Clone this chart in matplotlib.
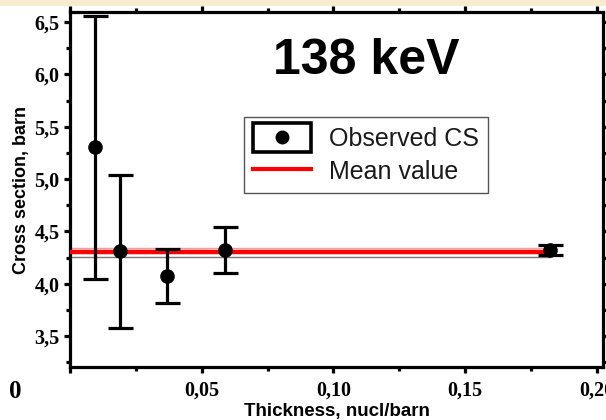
import matplotlib
matplotlib.use("Agg")
import matplotlib.pyplot as plt
from matplotlib.lines import Line2D
from matplotlib.patches import Rectangle
from matplotlib.legend_handler import HandlerBase
from matplotlib.ticker import MultipleLocator, FuncFormatter

# Data
thickness = [0.0095, 0.019, 0.0368, 0.0589, 0.1823]
cross_section = [5.305, 4.31, 4.073, 4.32, 4.32]
err_upper = [6.56, 5.04, 4.33, 4.544, 4.37]
err_lower = [4.045, 3.575, 3.82, 4.10, 4.27]
mean_value = 4.30
mean_sigma = 0.045
title_text = "138 keV"

yerr = [[c - lo for c, lo in zip(cross_section, err_lower)],
        [hi - c for c, hi in zip(cross_section, err_upper)]]

fig = plt.figure(figsize=(6.06, 4.2), dpi=100)
fig.patch.set_facecolor("white")
# beige strip at top
fig.add_artist(Rectangle((0, 1 - 6 / 420), 1, 6 / 420, transform=fig.transFigure,
                         facecolor="#f9ecce", edgecolor="none"))

ax = fig.add_axes([70 / 606, 1 - 367 / 420, (603 - 70) / 606, (367 - 12) / 420])
ax.set_xlim(0, 0.2024)
ax.set_ylim(3.204, 6.596)

x_end = thickness[-1]
ax.plot([0, x_end], [mean_value + mean_sigma] * 2, color="#ff9a9a", lw=1.0, zorder=2)
ax.plot([0, x_end], [mean_value - mean_sigma] * 2, color="#777777", lw=1.0, zorder=2)
ax.plot([0, x_end], [mean_value] * 2, color="#ff0000", lw=3.2, zorder=3)

ax.errorbar(thickness, cross_section, yerr=yerr, fmt="o", color="black",
            ms=9.5, elinewidth=2.3, capsize=9, capthick=2.3, zorder=4)

for s in ax.spines.values():
    s.set_linewidth(2.3)

ax.xaxis.set_major_locator(MultipleLocator(0.05))
ax.xaxis.set_minor_locator(MultipleLocator(0.025))
ax.yaxis.set_major_locator(MultipleLocator(0.5))
ax.yaxis.set_minor_locator(MultipleLocator(0.25))
ax.xaxis.set_major_formatter(FuncFormatter(lambda v, p: "" if abs(v) < 1e-9 else f"{v:.2f}".replace(".", ",")))
ax.yaxis.set_major_formatter(FuncFormatter(lambda v, p: f"{v:.1f}".replace(".", ",")))
ax.tick_params(which="both", direction="out", top=True, right=True, width=2.3)
ax.tick_params(which="major", length=4.5)
ax.tick_params(which="minor", length=3)
ax.tick_params(axis="x", pad=5)
ax.tick_params(axis="y", pad=3)
for lab in ax.get_xticklabels() + ax.get_yticklabels():
    lab.set_fontfamily("Liberation Serif")
    lab.set_fontweight("bold")
    lab.set_fontsize(14.5)

ax.set_xlabel("Thickness, nucl/barn", fontfamily="Liberation Sans", fontweight="bold",
              fontsize=13.5, labelpad=2)
ax.set_ylabel("Cross section, barn", fontfamily="Liberation Sans", fontweight="bold",
              fontsize=13, labelpad=3)

ax.text(0.556, 0.862, title_text, transform=ax.transAxes, ha="center", va="center",
        fontfamily="Liberation Sans", fontweight="bold", fontsize=36)

fig.text(15 / 606, 1 - 392 / 420, "0", ha="center", va="center",
         fontfamily="Liberation Serif", fontweight="bold", fontsize=18)


class BoxDotHandler(HandlerBase):
    def create_artists(self, legend, orig_handle, xdescent, ydescent, width, height,
                       fontsize, trans):
        rect = Rectangle((-xdescent, -ydescent - 0.15 * height), width, height * 1.3,
                         fill=False, lw=2.6, ec="black", transform=trans)
        dot = Line2D([width / 2 - xdescent], [height / 2 - ydescent], marker="o",
                     ms=9, color="black", ls="none", transform=trans)
        return [rect, dot]


obs_handle = Line2D([], [], marker="o", color="black", ls="none")
mean_handle = Line2D([], [], color="red", lw=3)
leg = ax.legend([obs_handle, mean_handle], ["Observed CS", "Mean value"],
                handler_map={obs_handle: BoxDotHandler()},
                loc="upper left", bbox_to_anchor=((244 - 70) / 533, 1 - (117 - 12) / 355),
                prop={"family": "Liberation Sans", "size": 18},
                frameon=True, fancybox=False, edgecolor="#555555", framealpha=1,
                handlelength=2.3, handleheight=1.0, labelspacing=0.35,
                borderpad=0.36, handletextpad=0.75, borderaxespad=0)
leg.get_frame().set_linewidth(1.0)
for t in leg.get_texts():
    t.set_color("#1a1a1a")

fig.savefig("out.png", dpi=100)
